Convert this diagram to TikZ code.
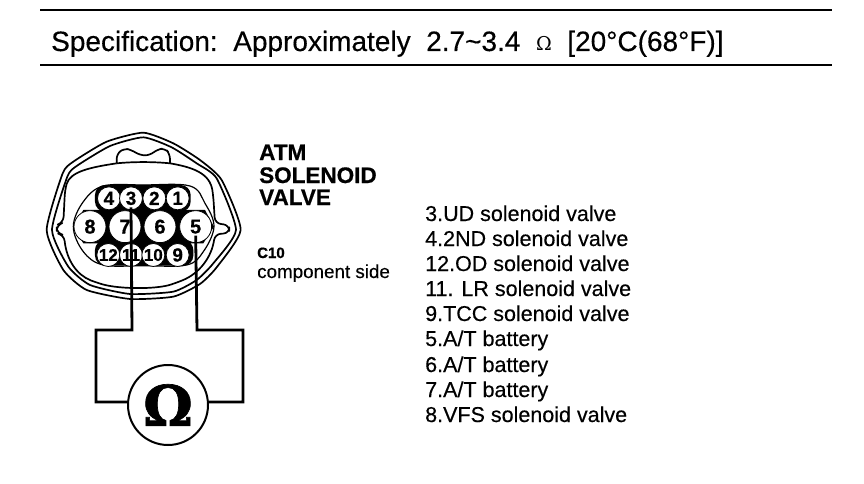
\documentclass[tikz,border=0pt]{standalone}
\usepackage{fontspec}
\setmainfont{Liberation Sans}
\newfontfamily\dv{DejaVu Serif}
\newfontfamily\semi[FakeBold=0.35]{Liberation Sans}
\newfontfamily\heavy[FakeBold=0.6]{Liberation Sans Bold}
\newfontfamily\omg[FakeBold=1.2]{DejaVu Serif Bold}
\tikzset{
 txt/.style={inner sep=0pt,anchor=base west,text=black},
 spec/.style={txt,font=\semi\fontsize{28}{28}\selectfont},
 lbl/.style={txt,font=\semi\fontsize{21.5}{21.5}\selectfont},
 ttl/.style={txt,font=\heavy\fontsize{22.5}{22.5}\selectfont},
 wire/.style={line width=2.8pt,line join=miter},
 outl/.style={line width=1.7pt,line join=round},
 bigpin/.style={circle,fill=white,draw=black,line width=.8pt,minimum size=32pt,inner sep=0pt,font=\heavy\fontsize{20}{20}\selectfont},
 smallpin/.style={circle,fill=white,draw=black,line width=.8pt,minimum size=23pt,inner sep=0pt,font=\heavy\fontsize{19}{19}\selectfont},
 darkpin/.style={smallpin,font=\heavy\fontsize{17}{17}\selectfont},
}
\begin{document}
\begin{tikzpicture}[x=1pt,y=-1pt]
\useasboundingbox (0,0) rectangle (864,484);
\fill[white] (0,0) rectangle (864,484);
\draw[line width=1.8pt] (40,10) -- (832,10);
\draw[line width=1.8pt] (40,65) -- (832,65);
\node[spec] (spec) at (51,51) {Specification:\ \ Approximately\ \ 2.7\textasciitilde 3.4\ \ {\dv\fontsize{19}{19}\selectfont Ω}\ \ [20°C(68°F)]};
\begin{scope}[shift={(40,130)},x=0.3333pt,y=-0.3333pt]
% shell
\draw[outl] plot[smooth cycle,tension=.35] coordinates {(310,8) (200,35) (100,95) (68,130) (20,300) (70,420) (140,480) (270,507) (400,500) (480,462) (530,412) (602,300) (545,150) (480,90) (400,40)};
\draw[outl] plot[smooth cycle,tension=.35] coordinates {(310,22) (210,48) (110,108) (82,140) (36,300) (85,410) (150,465) (270,492) (400,485) (470,450) (520,400) (588,300) (530,145) (470,100) (395,52)};
% body
\draw[outl,rounded corners=6pt] (230,100) .. controls (150,112) and (90,125) .. (75,180) -- (70,278) -- (50,285) -- (50,310) -- (72,315) .. controls (80,390) and (110,435) .. (170,458) .. controls (240,478) and (350,478) .. (410,458) .. controls (480,430) and (515,380) .. (525,312) -- (568,310) -- (568,285) -- (525,280) -- (520,200) .. controls (510,130) and (460,112) .. (390,100);
\draw[outl] (230,100) .. controls (280,95) and (340,95) .. (390,100);
% latch
\draw[outl,rounded corners=5pt] (230,100) -- (230,72) -- (252,55) -- (275,60) -- (300,76) -- (330,76) -- (352,58) -- (375,55) -- (390,72) -- (390,100);
% cavity
\draw[line width=1.2pt,fill=white] plot[smooth cycle,tension=.6] coordinates {(100,290) (130,215) (190,168) (310,165) (450,168) (495,220) (522,290) (490,365) (440,405) (310,407) (190,405) (130,365)};
\fill[black,rounded corners=10pt] (165,165) rectangle (452,245);
\fill[black,rounded corners=10pt] (165,330) rectangle (460,407);
\fill[black] (190,230) rectangle (430,350);
\fill[black] (100,290) -- (130,240) -- (200,240) -- (200,340) -- (130,340) -- cycle;
\fill[black] (522,290) -- (495,240) -- (420,240) -- (420,340) -- (490,340) -- cycle;
\node[smallpin] (p4) at (207,205) {4};
\node[smallpin] (p3) at (273,205) {3};
\node[smallpin] (p2) at (343,205) {2};
\node[smallpin] (p1) at (413,205) {1};
\node[bigpin] (p8) at (150,290) {8};
\node[bigpin] (p7) at (255,290) {7};
\node[bigpin] (p6) at (360,290) {6};
\node[bigpin] (p5) at (467,290) {5};
\node[darkpin] (p12) at (205,375) {12};
\node[darkpin] (p11) at (273,375) {11};
\node[darkpin] (p10) at (340,375) {10};
\node[smallpin] (p9) at (413,375) {9};
\end{scope}
% meter
\node[circle,draw=black,line width=2pt,fill=white,minimum size=80pt,inner sep=0pt,font=\omg\fontsize{56}{56}\selectfont] (om) at (168,405) {Ω};
\coordinate (lc) at (132,330);
\coordinate (rc) at (197,330);
\coordinate (lb) at (96,402);
\coordinate (rb) at (243,402);
\draw[wire] ([yshift=-9pt]p3.center) -- (lc) -- (96,330) -- (lb) -- (om.west|-lb);
\draw[wire] ([yshift=-9pt]p5.center) -- (rc) -- (243,330) -- (rb) -- (om.east|-rb);
\node[ttl] (t1) at (259,160) {ATM};
\node[ttl] (t2) at (259,183) {SOLENOID};
\node[ttl] (t3) at (259,205) {VALVE};
\node[txt,font=\heavy\fontsize{15}{15}\selectfont] (c10) at (257,258) {C10};
\node[txt,font=\semi\fontsize{18.8}{18.8}\selectfont] (cs) at (257,278) {component side};
\node[lbl] (l1) at (425,221) {3.UD solenoid valve};
\node[lbl] (l2) at (425,246) {4.2ND solenoid valve};
\node[lbl] (l3) at (425,271) {12.OD solenoid valve};
\node[lbl] (l4) at (425,296) {11. LR solenoid valve};
\node[lbl] (l5) at (425,321) {9.TCC solenoid valve};
\node[lbl] (l6) at (425,346) {5.A/T battery};
\node[lbl] (l7) at (425,372) {6.A/T battery};
\node[lbl] (l8) at (425,397) {7.A/T battery};
\node[lbl] (l9) at (425,422) {8.VFS solenoid valve};
\end{tikzpicture}
\end{document}
